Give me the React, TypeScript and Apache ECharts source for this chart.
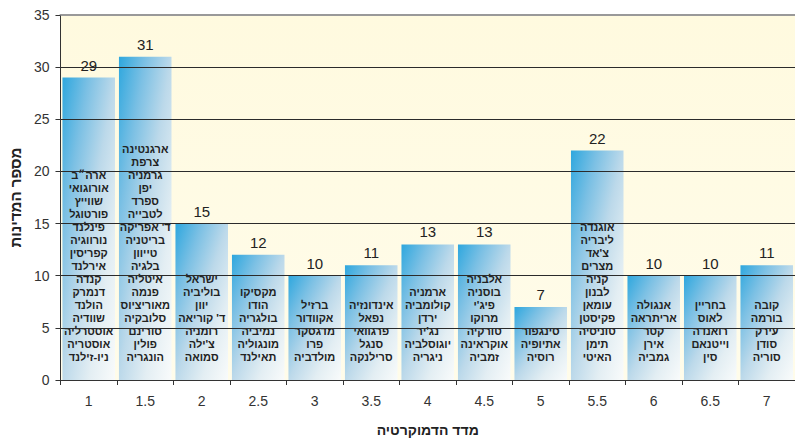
import React, { useEffect, useRef } from "react";
import * as echarts from "echarts";

const categories = ["1", "1.5", "2", "2.5", "3", "3.5", "4", "4.5", "5", "5.5", "6", "6.5", "7"];
const counts = [29, 31, 15, 12, 10, 11, 13, 13, 7, 22, 10, 10, 11];
const countries: string[][] = [
  ["ארה״ב", "אורוגואי", "שווייץ", "פורטוגל", "פינלנד", "נורווגיה", "קפריסין", "אירלנד", "קנדה", "דנמרק", "הולנד", "שוודיה", "אוסטרליה", "אוסטריה", "ניו-זילנד"],
  ["ארגנטינה", "צרפת", "גרמניה", "יפן", "ספרד", "לטבייה", "ד' אפריקה", "בריטניה", "טייוון", "בלגיה", "איטליה", "פנמה", "מאוריציוס", "סלובקיה", "סורינם", "פולין", "הונגריה"],
  ["ישראל", "בוליביה", "יוון", "ד' קוריאה", "רומניה", "צ'ילה", "סמואה"],
  ["מקסיקו", "הודו", "בולגריה", "נמיביה", "מונגוליה", "תאילנד"],
  ["ברזיל", "אקוודור", "מדגסקר", "פרו", "מולדביה"],
  ["אינדונזיה", "נפאל", "פרגוואי", "סנגל", "סרילנקה"],
  ["ארמניה", "קולומביה", "ירדן", "נג'יר", "יוגוסלביה", "ניגריה"],
  ["אלבניה", "בוסניה", "פיג'י", "מרוקו", "טורקיה", "אוקראינה", "זמביה"],
  ["סינגפור", "אתיופיה", "רוסיה"],
  ["אוגנדה", "ליבריה", "צ'אד", "מצרים", "קניה", "לבנון", "עומאן", "פקיסטן", "טוניסיה", "תימן", "האיטי"],
  ["אנגולה", "אריתראה", "קטר", "אירן", "גמביה"],
  ["בחריין", "לאוס", "רואנדה", "וייטנאם", "סין"],
  ["קובה", "בורמה", "עירק", "סודן", "סוריה"],
];
const xAxisName = "מדד הדמוקרטיה";
const yAxisName = "מספר המדינות";

const FONT = "'Liberation Sans', 'DejaVu Sans', Arial, sans-serif";

export default function App() {
  const ref = useRef<HTMLDivElement>(null);
  useEffect(() => {
    document.body.style.margin = "0";
    if (!ref.current) return;
    const chart = echarts.init(ref.current, undefined, { renderer: "svg" });
    const barGradient = new echarts.graphic.LinearGradient(0, 0, 1, 1, [
      { offset: 0, color: "#2ea7de" },
      { offset: 0.25, color: "#7bc0e4" },
      { offset: 0.5, color: "#bcd9ea" },
      { offset: 0.75, color: "#e3eef3" },
      { offset: 1, color: "#f9fbfb" },
    ]);
    chart.setOption({
      animation: false,
      grid: {
        left: 60,
        right: -5,
        top: 15,
        bottom: 62,
        show: true,
        borderWidth: 0,
        backgroundColor: new echarts.graphic.LinearGradient(0, 0, 0, 1, [
          { offset: 0, color: "#fffadf" },
          { offset: 1, color: "#fffcea" },
        ]),
      },
      xAxis: [
        {
          type: "category",
          data: categories,
          position: "bottom",
          z: 3,
          axisLine: { lineStyle: { color: "#333", width: 1 } },
          axisTick: { show: true, length: 5, lineStyle: { color: "#333" } },
          axisLabel: { fontSize: 14, color: "#333", margin: 14, fontFamily: FONT },
          name: xAxisName,
          nameLocation: "middle",
          nameGap: 43,
          nameTextStyle: { fontSize: 14, fontWeight: "bold", color: "#222", fontFamily: FONT },
        },
        {
          type: "category",
          data: categories,
          position: "top",
          z: 3,
          axisLine: { lineStyle: { color: "#999", width: 2 } },
          axisTick: { show: false },
          axisLabel: { show: false },
        },
      ],
      yAxis: {
        type: "value",
        min: 0,
        max: 35,
        interval: 5,
        z: 3,
        axisLine: { show: true, lineStyle: { color: "#333", width: 1 } },
        axisTick: { show: true, length: 5, lineStyle: { color: "#333" } },
        axisLabel: { fontSize: 14, color: "#333", margin: 11, fontFamily: FONT },
        splitLine: { show: true, showMaxLine: false, lineStyle: { color: "#2b2b2b", width: 1 } },
        name: yAxisName,
        nameLocation: "middle",
        nameGap: 31,
        nameTextStyle: { fontSize: 15, fontWeight: "bold", color: "#222", fontFamily: FONT },
      },
      series: [
        {
          type: "bar",
          data: counts,
          barCategoryGap: "7%",
          itemStyle: { color: barGradient },
          label: {
            show: true,
            position: "top",
            distance: 5,
            fontSize: 15,
            color: "#222",
            fontFamily: FONT,
          },
        },
        {
          type: "bar",
          data: counts,
          barGap: "-100%",
          barCategoryGap: "7%",
          silent: true,
          itemStyle: { color: "rgba(0,0,0,0)" },
          label: {
            show: true,
            position: "insideBottom",
            distance: 17,
            formatter: (p: any) => countries[p.dataIndex].join("\n"),
            fontSize: 11,
            fontWeight: "bold",
            lineHeight: 13,
            color: "#222",
            fontFamily: FONT,
          },
        },
      ],
    });
    return () => chart.dispose();
  }, []);
  return <div ref={ref} style={{ width: 795, height: 442 }} />;
}
